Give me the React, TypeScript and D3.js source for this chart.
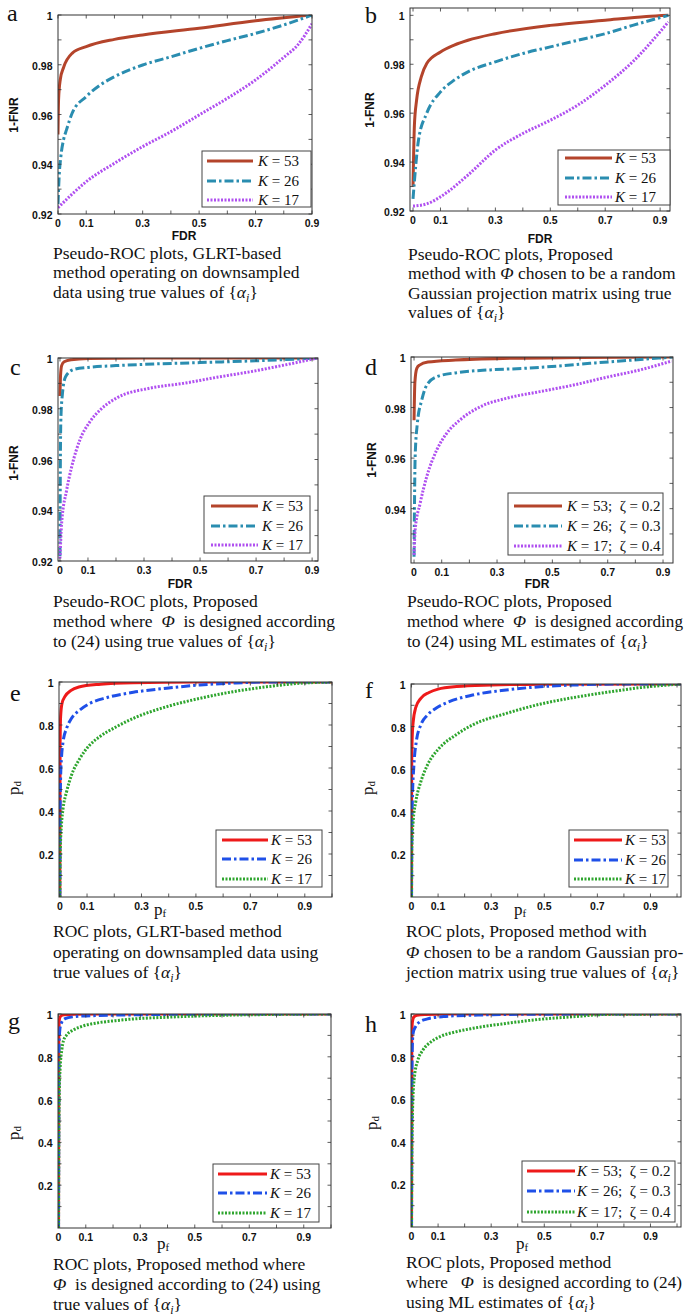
import React from 'react';
import * as d3 from 'd3';

type Pt = [number, number];

// ---------- data ----------
const aK53: Pt[] = [[0,0.952],[0.002,0.966],[0.008,0.974],[0.02,0.979],[0.05,0.9846],[0.1,0.9873],[0.2,0.9902],[0.3,0.992],[0.5,0.9947],[0.7,0.9977],[0.9,1.0]];
const aK26: Pt[] = [[0,0.924],[0.004,0.935],[0.01,0.943],[0.02,0.95],[0.03,0.9538],[0.05,0.9605],[0.1,0.9672],[0.15,0.9719],[0.2,0.9752],[0.3,0.9799],[0.4,0.9832],[0.5,0.9866],[0.6,0.9897],[0.7,0.9926],[0.8,0.996],[0.9,1.0]];
const aK17: Pt[] = [[0,0.9225],[0.05,0.928],[0.1,0.933],[0.2,0.9404],[0.3,0.9471],[0.4,0.9531],[0.5,0.9598],[0.6,0.9665],[0.7,0.9739],[0.8,0.983],[0.85,0.988],[0.9,0.9965]];

const bK53: Pt[] = [[0,0.93],[0.005,0.955],[0.013,0.9653],[0.03,0.9748],[0.05,0.9803],[0.1,0.985],[0.15,0.9878],[0.2,0.9898],[0.3,0.9925],[0.5,0.9959],[0.7,0.998],[0.85,0.9995],[0.93,1.0]];
const bK26: Pt[] = [[0,0.925],[0.02,0.949],[0.05,0.96],[0.1,0.9687],[0.15,0.9735],[0.2,0.9769],[0.3,0.981],[0.4,0.9844],[0.5,0.9871],[0.6,0.9898],[0.7,0.9925],[0.8,0.9959],[0.93,1.0]];
const bK17: Pt[] = [[0,0.922],[0.05,0.9229],[0.1,0.9258],[0.2,0.9347],[0.3,0.9449],[0.4,0.9517],[0.5,0.9571],[0.6,0.9633],[0.7,0.9714],[0.8,0.981],[0.93,0.9973]];

const cK53: Pt[] = [[0,0.985],[0.002,0.993],[0.006,0.997],[0.015,0.9985],[0.04,0.9993],[0.1,0.9998],[0.3,1.0],[0.92,1.0]];
const cK26: Pt[] = [[0,0.922],[0.001,0.95],[0.003,0.975],[0.008,0.985],[0.02,0.9926],[0.05,0.9955],[0.1,0.9963],[0.2,0.997],[0.3,0.9975],[0.5,0.9982],[0.7,0.9989],[0.92,1.0]];
const cK17: Pt[] = [[0,0.921],[0.006,0.9349],[0.024,0.948],[0.042,0.9572],[0.071,0.9677],[0.107,0.9749],[0.143,0.9795],[0.2,0.9841],[0.32,0.9881],[0.44,0.99],[0.56,0.9924],[0.68,0.9946],[0.8,0.9972],[0.92,1.0]];

const dK53: Pt[] = [[0,0.975],[0.003,0.99],[0.01,0.9955],[0.02,0.9968],[0.05,0.998],[0.15,0.9988],[0.35,0.9995],[0.6,0.9998],[0.935,1.0]];
const dK26: Pt[] = [[0,0.921],[0.004,0.9606],[0.012,0.9738],[0.028,0.983],[0.046,0.9889],[0.082,0.9922],[0.154,0.9938],[0.275,0.9949],[0.395,0.9955],[0.516,0.9964],[0.636,0.9975],[0.757,0.9985],[0.935,1.0]];
const dK17: Pt[] = [[0,0.9217],[0.004,0.9316],[0.022,0.9421],[0.046,0.9527],[0.082,0.9632],[0.118,0.9698],[0.166,0.9751],[0.239,0.9803],[0.335,0.9837],[0.455,0.9863],[0.576,0.9889],[0.696,0.992],[0.817,0.9949],[0.931,0.9984]];

const eK53: Pt[] = [[0,0],[0.001,0.7],[0.003,0.84],[0.008,0.9],[0.02,0.935],[0.04,0.96],[0.07,0.977],[0.15,0.99],[0.27,0.997],[0.5,1.0],[1,1]];
const eK26: Pt[] = [[0,0],[0.001,0.4],[0.003,0.56],[0.006,0.645],[0.012,0.722],[0.025,0.785],[0.043,0.831],[0.074,0.87],[0.11,0.9],[0.172,0.927],[0.27,0.952],[0.392,0.971],[0.515,0.986],[0.637,0.995],[0.76,1.0],[1,1]];
const eK17: Pt[] = [[0,0],[0.001,0.15],[0.002,0.226],[0.006,0.335],[0.012,0.412],[0.025,0.49],[0.043,0.567],[0.074,0.645],[0.11,0.707],[0.147,0.746],[0.208,0.792],[0.27,0.831],[0.392,0.885],[0.515,0.924],[0.637,0.955],[0.76,0.978],[0.882,0.994],[1,1]];

const fK53: Pt[] = [[0,0],[0.0005,0.57],[0.002,0.73],[0.006,0.82],[0.016,0.89],[0.035,0.933],[0.066,0.96],[0.1,0.976],[0.17,0.988],[0.3,0.995],[0.5,0.999],[1.015,1]];
const fK26: Pt[] = [[0,0],[0.001,0.3],[0.003,0.45],[0.009,0.62],[0.018,0.73],[0.035,0.808],[0.06,0.854],[0.092,0.886],[0.142,0.917],[0.23,0.948],[0.357,0.972],[0.483,0.987],[0.61,0.995],[0.8,1.0],[1.015,1]];
const fK17: Pt[] = [[0,0],[0.0005,0.12],[0.001,0.229],[0.006,0.353],[0.016,0.447],[0.035,0.541],[0.06,0.62],[0.104,0.698],[0.167,0.761],[0.23,0.808],[0.357,0.862],[0.483,0.905],[0.609,0.936],[0.735,0.961],[0.862,0.983],[1.015,1]];

const gK53: Pt[] = [[0,0],[0.001,0.9],[0.003,0.975],[0.008,0.99],[0.02,0.996],[0.06,0.999],[0.2,1],[1,1]];
const gK26: Pt[] = [[0,0],[0.001,0.6],[0.002,0.85],[0.005,0.93],[0.012,0.962],[0.024,0.978],[0.054,0.987],[0.1,0.991],[0.27,0.996],[0.5,0.999],[1,1]];
const gK17: Pt[] = [[0,0],[0.001,0.4],[0.003,0.65],[0.006,0.75],[0.012,0.832],[0.018,0.875],[0.03,0.902],[0.054,0.925],[0.09,0.944],[0.15,0.96],[0.21,0.969],[0.275,0.977],[0.4,0.985],[0.52,0.991],[0.64,0.995],[0.8,0.998],[1,1]];

const hK53: Pt[] = [[0,0],[0.001,0.88],[0.003,0.96],[0.008,0.985],[0.02,0.994],[0.05,0.998],[0.15,1],[1.015,1]];
const hK26: Pt[] = [[0,0],[0.001,0.6],[0.003,0.85],[0.006,0.91],[0.015,0.94],[0.03,0.962],[0.06,0.977],[0.12,0.988],[0.25,0.995],[0.45,0.999],[1.015,1]];
const hK17: Pt[] = [[0,0],[0.001,0.3],[0.003,0.5],[0.005,0.596],[0.011,0.706],[0.024,0.784],[0.043,0.831],[0.074,0.87],[0.106,0.893],[0.169,0.917],[0.232,0.933],[0.358,0.956],[0.484,0.975],[0.61,0.987],[0.736,0.998],[1.015,1]];

const kValues = ['53', '26', '17'];
const zetaValues = ['0.2', '0.3', '0.4'];

const xTickLabeled = [0, 0.1, 0.3, 0.5, 0.7, 0.9];
const xTickMinor = [0.2, 0.4, 0.6, 0.8];
const rocXTickMinor = [0.2, 0.4, 0.6, 0.8, 1.0];
const pseudoYLabeled = [0.92, 0.94, 0.96, 0.98, 1];
const pseudoYLabeledD = [0.94, 0.96, 0.98, 1];
const pseudoYMinor = [0.93, 0.95, 0.97, 0.99];
const rocYLabeled = [0.2, 0.4, 0.6, 0.8, 1];
const rocYMinor = [0.1, 0.3, 0.5, 0.7, 0.9];

const pseudoColors = ['#b4442b', '#2a8db0', '#b050f0'];
const rocColors = ['#ee1a1a', '#1f50e8', '#2ea52e'];

const captionA = ['Pseudo-ROC plots, GLRT-based', 'method operating on downsampled', 'data using true values of §A'];
const captionB = ['Pseudo-ROC plots, Proposed', 'method with §P chosen to be a random', 'Gaussian projection matrix using true', 'values of §A'];
const captionC = ['Pseudo-ROC plots, Proposed', 'method where  §P  is designed according', 'to (24) using true values of §A'];
const captionD = ['Pseudo-ROC plots, Proposed', 'method where  §P  is designed according', 'to (24) using ML estimates of §A'];
const captionE = ['ROC plots, GLRT-based method', 'operating on downsampled data using', 'true values of §A'];
const captionF = ['ROC plots, Proposed method with', '§P chosen to be a random Gaussian pro-', 'jection matrix using true values of §A'];
const captionG = ['ROC plots, Proposed method where', '§P  is designed according to (24) using', 'true values of §A'];
const captionH = ['ROC plots, Proposed method', 'where   §P  is designed according to (24)', 'using ML estimates of §A'];

// ---------- layout ----------
interface Cfg {
  id: string; letter: string; lx: number; ly: number;
  l: number; r: number; t: number; b: number;
  xd: [number, number]; yd: [number, number];
  series: Pt[][]; colors: string[]; roc: boolean;
  yLab: number[]; yMin: number[]; xMin: number[];
  leg: { x: number; y: number; w: number; h: number; rows: number[]; x1: number; x2: number; tx: number; zeta: boolean };
  yt: [number, number]; xt: [number, number];
  cap: string[]; cx: number; cy: number; cdy: number; fit?: { [k: number]: number };
}

const panels: Cfg[] = [
  { id: 'a', letter: 'a', lx: 7, ly: 21, l: 58, r: 312, t: 15, b: 214, xd: [0, 0.9], yd: [0.92, 1],
    series: [aK53, aK26, aK17], colors: pseudoColors, roc: false, yLab: pseudoYLabeled, yMin: pseudoYMinor, xMin: xTickMinor,
    leg: { x: 202, y: 151, w: 109, h: 56, rows: [161, 181, 200], x1: 207, x2: 253, tx: 258, zeta: false },
    yt: [14, 115], xt: [184, 240], cap: captionA, cx: 53, cy: 259, cdy: 19.3 },
  { id: 'b', letter: 'b', lx: 365, ly: 23, l: 410, r: 670, t: 8, b: 211, xd: [-0.011, 0.936], yd: [0.92, 1.003],
    series: [bK53, bK26, bK17], colors: pseudoColors, roc: false, yLab: pseudoYLabeled, yMin: pseudoYMinor, xMin: xTickMinor,
    leg: { x: 558, y: 150, w: 112, h: 55, rows: [158, 178, 197], x1: 565, x2: 612, tx: 615, zeta: false },
    yt: [370, 110], xt: [540, 243], cap: captionB, cx: 408, cy: 260, cdy: 19.3 },
  { id: 'c', letter: 'c', lx: 10, ly: 375, l: 58, r: 318, t: 358, b: 561, xd: [-0.007, 0.921], yd: [0.92, 1],
    series: [cK53, cK26, cK17], colors: pseudoColors, roc: false, yLab: pseudoYLabeled, yMin: pseudoYMinor, xMin: xTickMinor,
    leg: { x: 204, y: 496, w: 106, h: 57, rows: [506, 526, 545], x1: 211, x2: 258, tx: 262, zeta: false },
    yt: [14, 463], xt: [180, 588], cap: captionC, cx: 53, cy: 607, cdy: 20 },
  { id: 'd', letter: 'd', lx: 365, ly: 375, l: 411, r: 673, t: 357, b: 563, xd: [-0.011, 0.936], yd: [0.9185, 1],
    series: [dK53, dK26, dK17], colors: pseudoColors, roc: false, yLab: pseudoYLabeledD, yMin: pseudoYMinor, xMin: xTickMinor,
    leg: { x: 508, y: 493, w: 155, h: 62, rows: [506, 526, 546], x1: 514, x2: 562, tx: 567, zeta: true },
    yt: [372, 460], xt: [537, 588], cap: captionD, cx: 407, cy: 607, cdy: 20, fit: { 1: 276 } },
  { id: 'e', letter: 'e', lx: 10, ly: 701, l: 59, r: 332, t: 682, b: 897, xd: [-0.003, 1], yd: [0, 1],
    series: [eK53, eK26, eK17], colors: rocColors, roc: true, yLab: rocYLabeled, yMin: rocYMinor, xMin: rocXTickMinor,
    leg: { x: 216, y: 830, w: 106, h: 57, rows: [840, 859, 879], x1: 222, x2: 268, tx: 271, zeta: false },
    yt: [14, 788], xt: [160, 915], cap: captionE, cx: 53, cy: 937, cdy: 20.5 },
  { id: 'f', letter: 'f', lx: 365, ly: 698, l: 411, r: 681, t: 684, b: 897, xd: [-0.002, 1.015], yd: [0, 1],
    series: [fK53, fK26, fK17], colors: rocColors, roc: true, yLab: rocYLabeled, yMin: rocYMinor, xMin: rocXTickMinor,
    leg: { x: 569, y: 830, w: 99, h: 57, rows: [840, 860, 879], x1: 574, x2: 622, tx: 625, zeta: false },
    yt: [368, 788], xt: [520, 915], cap: captionF, cx: 406, cy: 937, cdy: 20.5 },
  { id: 'g', letter: 'g', lx: 8, ly: 1029, l: 58, r: 331, t: 1014, b: 1228, xd: [-0.002, 1], yd: [0, 1],
    series: [gK53, gK26, gK17], colors: rocColors, roc: true, yLab: rocYLabeled, yMin: rocYMinor, xMin: rocXTickMinor,
    leg: { x: 213, y: 1164, w: 106, h: 58, rows: [1174, 1193, 1213], x1: 218, x2: 267, tx: 270, zeta: false },
    yt: [14, 1133], xt: [163, 1249], cap: captionG, cx: 53, cy: 1270, cdy: 20 },
  { id: 'h', letter: 'h', lx: 365, ly: 1032, l: 411, r: 681, t: 1014, b: 1227, xd: [-0.002, 1.015], yd: [0, 1],
    series: [hK53, hK26, hK17], colors: rocColors, roc: true, yLab: rocYLabeled, yMin: rocYMinor, xMin: rocXTickMinor,
    leg: { x: 522, y: 1161, w: 153, h: 61, rows: [1171, 1191, 1212], x1: 527, x2: 575, tx: 577, zeta: true },
    yt: [372, 1123], xt: [522, 1249], cap: captionH, cx: 406, cy: 1268, cdy: 20, fit: { 1: 276 } },
];

const dashes = ['none', '9,3,2.5,3', '2,1.5'];
const SERIF = '"Liberation Serif", "Times New Roman", serif';
const SANS = '"Liberation Sans", Arial, sans-serif';

function fmt(v: number): string {
  return String(+v.toFixed(2));
}

function CaptionLine({ s, x, y, fit }: { s: string; x: number; y: number; fit?: number }) {
  const parts = s.split(/(§A|§P)/);
  const out: React.ReactNode[] = [];
  parts.forEach((p, i) => {
    if (p === '§A') {
      out.push(<tspan key={i + 'a'}>{'{'}</tspan>);
      out.push(<tspan key={i + 'b'} fontStyle="italic">α</tspan>);
      out.push(<tspan key={i + 'c'} fontStyle="italic" fontSize={12} dy={4}>i</tspan>);
      out.push(<tspan key={i + 'd'} dy={-4}>{'}'}</tspan>);
    } else if (p === '§P') {
      out.push(<tspan key={i} fontStyle="italic">Φ</tspan>);
    } else if (p.length) {
      out.push(<tspan key={i}>{p}</tspan>);
    }
  });
  const extra: any = fit ? { textLength: fit, lengthAdjust: 'spacingAndGlyphs' } : {};
  return (
    <text x={x} y={y} fontFamily={SERIF} fontSize={17.5} fill="#111" style={{ whiteSpace: 'pre' }} {...extra}>{out}</text>
  );
}

function Panel({ c }: { c: Cfg }) {
  const x = d3.scaleLinear().domain(c.xd).range([c.l, c.r]);
  const y = d3.scaleLinear().domain(c.yd).range([c.b, c.t]);
  const line = d3.line<Pt>().x(d => x(d[0])).y(d => y(d[1])).curve(d3.curveMonotoneX);
  const tl = 3.5;
  const xAll = [...xTickLabeled, ...c.xMin];
  const yAll = [...c.yLab, ...c.yMin].filter(v => v >= c.yd[0] && v <= c.yd[1]);
  const clip = 'clip-' + c.id;
  return (
    <g>
      <defs>
        <clipPath id={clip}><rect x={c.l} y={c.t} width={c.r - c.l} height={c.b - c.t} /></clipPath>
      </defs>
      <rect x={c.l} y={c.t} width={c.r - c.l} height={c.b - c.t} fill="#fff" />
      <g clipPath={`url(#${clip})`}>
        {c.series.map((s, i) => (
          <path key={i} d={line(s) || ''} fill="none" stroke={c.colors[i]} strokeWidth={3}
            strokeDasharray={dashes[i]} strokeLinejoin="round" />
        ))}
      </g>
      {xAll.map((v, i) => (
        <g key={'xt' + i}>
          <line x1={x(v)} x2={x(v)} y1={c.b} y2={c.b - tl} stroke="#333" strokeWidth={0.8} />
          <line x1={x(v)} x2={x(v)} y1={c.t} y2={c.t + tl} stroke="#333" strokeWidth={0.8} />
        </g>
      ))}
      {yAll.map((v, i) => (
        <g key={'yt' + i}>
          <line x1={c.l} x2={c.l + tl} y1={y(v)} y2={y(v)} stroke="#333" strokeWidth={0.8} />
          <line x1={c.r} x2={c.r - tl} y1={y(v)} y2={y(v)} stroke="#333" strokeWidth={0.8} />
        </g>
      ))}
      <rect x={c.l} y={c.t} width={c.r - c.l} height={c.b - c.t} fill="none" stroke="#333" strokeWidth={1} />
      {xTickLabeled.map((v, i) => (
        <text key={'xl' + i} x={x(v)} y={c.b + 12.5} textAnchor="middle" fontFamily={SANS} fontWeight="bold" fontSize={10.5} fill="#111">{fmt(v)}</text>
      ))}
      {c.yLab.map((v, i) => (
        <text key={'yl' + i} x={c.l - 5.5} y={y(v) + 5} textAnchor="end" fontFamily={SANS} fontWeight="bold" fontSize={10.5} fill="#111">{fmt(v)}</text>
      ))}
      {c.roc ? (
        <>
          <text x={c.xt[0]} y={c.xt[1]} textAnchor="middle" fontFamily={SERIF} fontSize={17} fill="#111">p<tspan fontSize={11} dy={2}>f</tspan></text>
          <text transform={`translate(${c.yt[0] + 5},${c.yt[1]}) rotate(-90)`} textAnchor="middle" fontFamily={SERIF} fontSize={17} fill="#111">p<tspan fontSize={11} dy={2}>d</tspan></text>
        </>
      ) : (
        <>
          <text x={c.xt[0]} y={c.xt[1]} textAnchor="middle" fontFamily={SANS} fontWeight="bold" fontSize={12} fill="#111">FDR</text>
          <text transform={`translate(${c.yt[0] + 4},${c.yt[1]}) rotate(-90)`} textAnchor="middle" fontFamily={SANS} fontWeight="bold" fontSize={12} fill="#111">1-FNR</text>
        </>
      )}
      <rect x={c.leg.x} y={c.leg.y} width={c.leg.w} height={c.leg.h} fill="#fff" stroke="#444" strokeWidth={1} />
      {kValues.map((k, i) => (
        <g key={'lg' + i}>
          <line x1={c.leg.x1} x2={c.leg.x2} y1={c.leg.rows[i]} y2={c.leg.rows[i]} stroke={c.colors[i]} strokeWidth={3} strokeDasharray={dashes[i]} />
          <text x={c.leg.tx} y={c.leg.rows[i] + 5} fontFamily={SERIF} fontSize={15} fill="#111" style={{ whiteSpace: 'pre' }}>
            <tspan fontStyle="italic">K</tspan>
            <tspan>{c.leg.zeta ? ` = ${k};  ζ = ${zetaValues[i]}` : ` = ${k}`}</tspan>
          </text>
        </g>
      ))}
      <text x={c.lx} y={c.ly} fontFamily={SERIF} fontSize={24} fill="#111">{c.letter}</text>
      {c.cap.map((s, i) => (
        <CaptionLine key={'cap' + i} s={s} x={c.cx} y={c.cy + i * c.cdy} fit={c.fit ? c.fit[i] : undefined} />
      ))}
    </g>
  );
}

export default function App() {
  return (
    <svg width={685} height={1316} viewBox="0 0 685 1316"
      style={{ position: 'absolute', left: 0, top: 0, background: '#fff' }}>
      <rect x={0} y={0} width={685} height={1316} fill="#fff" />
      {panels.map(p => <Panel key={p.id} c={p} />)}
    </svg>
  );
}
